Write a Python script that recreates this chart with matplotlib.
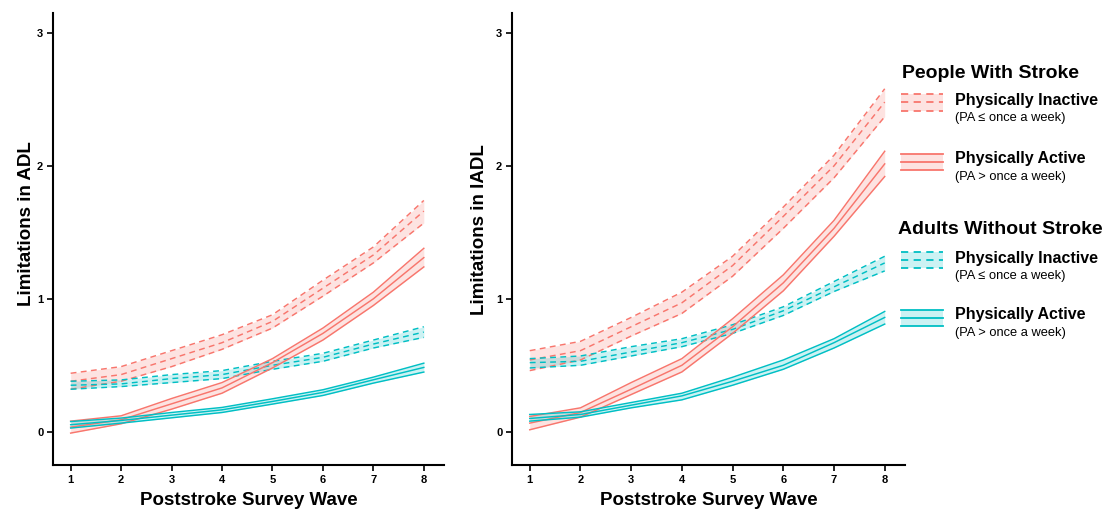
import matplotlib
matplotlib.use("Agg")
import matplotlib.pyplot as plt
from matplotlib.patches import Rectangle

plt.rcParams['font.family'] = ['Liberation Sans', 'DejaVu Sans']

waves = [1, 2, 3, 4, 5, 6, 7, 8]

# ADL panel
adl_si_mid = [0.38, 0.43, 0.55, 0.67, 0.83, 1.08, 1.33, 1.66]
adl_si_lo = [0.32, 0.38, 0.49, 0.62, 0.78, 1.02, 1.27, 1.57]
adl_si_hi = [0.44, 0.49, 0.61, 0.73, 0.88, 1.14, 1.39, 1.74]
adl_sa_mid = [0.035, 0.09, 0.21, 0.33, 0.52, 0.74, 1.00, 1.31]
adl_sa_lo = [-0.01, 0.06, 0.17, 0.29, 0.48, 0.69, 0.95, 1.24]
adl_sa_hi = [0.08, 0.12, 0.25, 0.37, 0.55, 0.78, 1.05, 1.38]
adl_ni_mid = [0.35, 0.36, 0.40, 0.43, 0.50, 0.56, 0.66, 0.75]
adl_ni_lo = [0.32, 0.34, 0.37, 0.40, 0.47, 0.53, 0.63, 0.71]
adl_ni_hi = [0.38, 0.39, 0.43, 0.46, 0.53, 0.59, 0.69, 0.79]
adl_na_mid = [0.053, 0.085, 0.125, 0.165, 0.228, 0.296, 0.391, 0.484]
adl_na_lo = [0.028, 0.065, 0.105, 0.145, 0.208, 0.273, 0.366, 0.449]
adl_na_hi = [0.077, 0.103, 0.145, 0.183, 0.248, 0.316, 0.411, 0.516]

# IADL panel
iadl_si_mid = [0.54, 0.61, 0.79, 0.97, 1.25, 1.62, 2.00, 2.48]
iadl_si_lo = [0.46, 0.54, 0.72, 0.89, 1.17, 1.53, 1.91, 2.37]
iadl_si_hi = [0.61, 0.68, 0.86, 1.05, 1.32, 1.69, 2.08, 2.58]
iadl_sa_mid = [0.065, 0.145, 0.32, 0.50, 0.79, 1.12, 1.53, 2.015]
iadl_sa_lo = [0.015, 0.11, 0.28, 0.45, 0.74, 1.06, 1.47, 1.92]
iadl_sa_hi = [0.115, 0.18, 0.37, 0.55, 0.85, 1.18, 1.59, 2.11]
iadl_ni_mid = [0.52, 0.53, 0.60, 0.67, 0.77, 0.91, 1.09, 1.27]
iadl_ni_lo = [0.48, 0.50, 0.57, 0.64, 0.74, 0.875, 1.055, 1.21]
iadl_ni_hi = [0.55, 0.57, 0.64, 0.70, 0.805, 0.94, 1.13, 1.32]
iadl_na_mid = [0.10, 0.13, 0.20, 0.27, 0.38, 0.50, 0.67, 0.86]
iadl_na_lo = [0.08, 0.11, 0.18, 0.24, 0.35, 0.47, 0.63, 0.81]
iadl_na_hi = [0.13, 0.15, 0.22, 0.29, 0.41, 0.54, 0.70, 0.905]

y_ticks = [0, 1, 2, 3]
x_label = "Poststroke Survey Wave"
y_labels = ["Limitations in ADL", "Limitations in IADL"]

RED = "#F8766D"
TEAL = "#00BFC4"
DASH = (0, (4, 3))

W, H = 1104, 511
fig = plt.figure(figsize=(W / 100, H / 100), dpi=100)


def px_axes(x0, x1, ytop, ybot):
    return fig.add_axes([x0 / W, (H - ybot) / H, (x1 - x0) / W, (ybot - ytop) / H])


ax1 = px_axes(53, 444, 13, 465)
ax2 = px_axes(512, 905, 13, 465)

panels = [
    (ax1, y_labels[0], (-0.046, 0.535),
     [(adl_si_lo, adl_si_mid, adl_si_hi, RED, DASH),
      (adl_ni_lo, adl_ni_mid, adl_ni_hi, TEAL, DASH),
      (adl_sa_lo, adl_sa_mid, adl_sa_hi, RED, '-'),
      (adl_na_lo, adl_na_mid, adl_na_hi, TEAL, '-')]),
    (ax2, y_labels[1], (-0.062, 0.52),
     [(iadl_si_lo, iadl_si_mid, iadl_si_hi, RED, DASH),
      (iadl_ni_lo, iadl_ni_mid, iadl_ni_hi, TEAL, DASH),
      (iadl_sa_lo, iadl_sa_mid, iadl_sa_hi, RED, '-'),
      (iadl_na_lo, iadl_na_mid, iadl_na_hi, TEAL, '-')]),
]

for ax, ylab, lc, series in panels:
    for lo, mid, hi, col, ls in series:
        ax.fill_between(waves, lo, hi, color=col, alpha=0.2, linewidth=0)
    for lo, mid, hi, col, ls in series:
        for s in (lo, mid, hi):
            ax.plot(waves, s, color=col, linestyle=ls, linewidth=1.05)
    ax.set_xlim(0.65, 8.4)
    ax.set_ylim(-0.25, 3.15)
    ax.set_xticks(waves)
    ax.set_yticks(y_ticks)
    ax.tick_params(length=4, width=1.2, labelsize=8, colors='black', pad=3)
    for lab in ax.get_xticklabels() + ax.get_yticklabels():
        lab.set_fontweight('bold')
    for side in ('top', 'right'):
        ax.spines[side].set_visible(False)
    for side in ('left', 'bottom'):
        ax.spines[side].set_linewidth(1.5)
    ax.set_xlabel(x_label, fontsize=13.5, fontweight='bold', labelpad=5)
    ax.set_ylabel(ylab, fontsize=13.5, fontweight='bold')
    ax.yaxis.set_label_coords(*lc)

# Legend drawn in pixel space
lg = fig.add_axes([0, 0, 1, 1], facecolor='none')
lg.set_xlim(0, W)
lg.set_ylim(H, 0)
lg.axis('off')

groups = [
    ("People With Stroke", 902, 73, RED,
     [(94, 111, DASH, "Physically Inactive", "(PA \u2264 once a week)", 100, 118),
      (154, 170, '-', "Physically Active", "(PA > once a week)", 159, 177)]),
    ("Adults Without Stroke", 898, 230, TEAL,
     [(252, 268, DASH, "Physically Inactive", "(PA \u2264 once a week)", 258, 276),
      (310, 326, '-', "Physically Active", "(PA > once a week)", 315, 333)]),
]
for title, tx, ty, col, items in groups:
    lg.text(tx, ty, title, fontsize=14, fontweight='bold', va='center', ha='left')
    for ktop, kbot, ls, name, sub, ny, sy in items:
        lg.add_patch(Rectangle((901, ktop), 42, kbot - ktop, facecolor=col,
                               alpha=0.2, edgecolor='none'))
        for yy in (ktop, (ktop + kbot) / 2, kbot):
            lg.plot([901, 943], [yy, yy], color=col, linestyle=ls, linewidth=1.3)
        lg.text(955, ny, name, fontsize=11.5, fontweight='bold', va='center', ha='left')
        lg.text(955, sy, sub, fontsize=9.3, va='center', ha='left')

fig.savefig("out.png", dpi=100)
